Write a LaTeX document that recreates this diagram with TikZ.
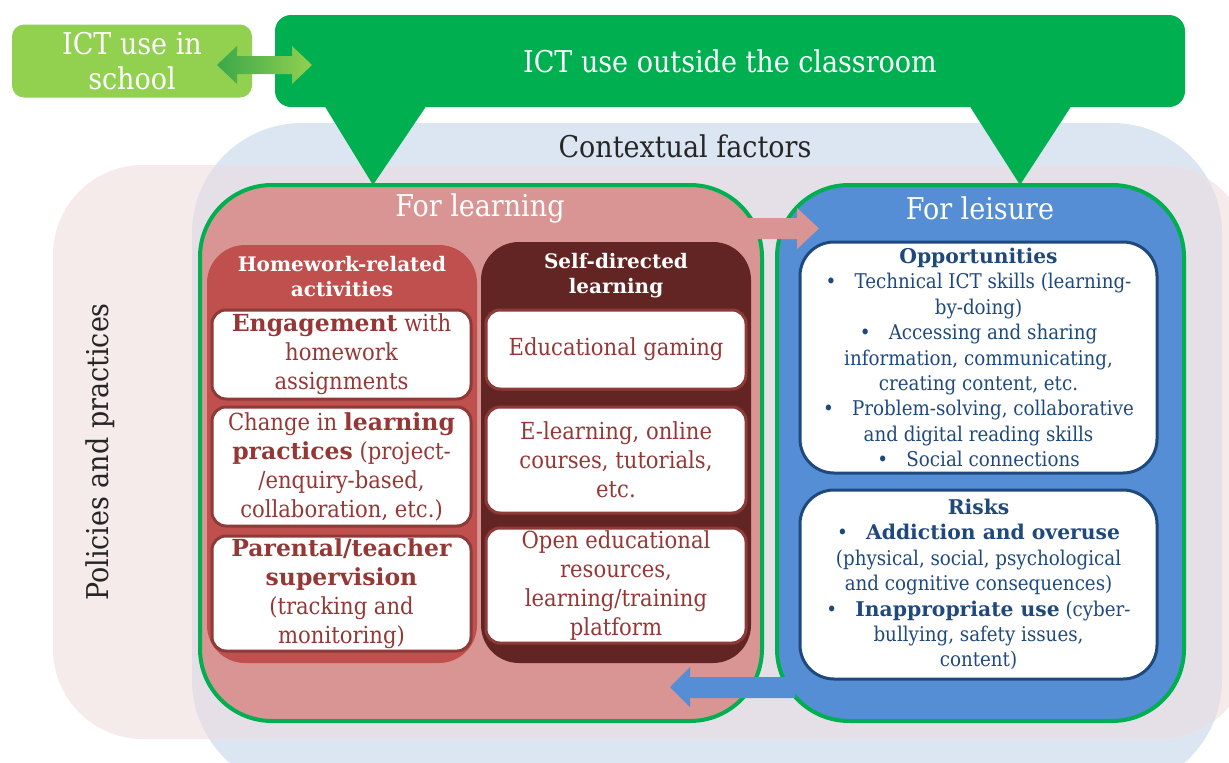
\documentclass[tikz,border=0pt]{standalone}
\usepackage{fontspec}
\setmainfont{DejaVu Serif Condensed}[BoldFont={DejaVu Serif Bold}]
\definecolor{ltgreen}{HTML}{92D050}
\definecolor{dkgreen}{HTML}{00B050}
\definecolor{arrdark}{HTML}{3AA84A}
\definecolor{lrnfill}{HTML}{D99594}
\definecolor{hwred}{HTML}{C0504D}
\definecolor{sdred}{HTML}{632523}
\definecolor{boxred}{HTML}{953735}
\definecolor{boxedge}{HTML}{8E3A38}
\definecolor{leisblue}{HTML}{558ED5}
\definecolor{navy}{HTML}{1F497D}
\definecolor{bgblue}{HTML}{DCE6F2}
\definecolor{bgpink}{HTML}{F5EBEB}
\definecolor{bglav}{HTML}{E5E0E8}
\definecolor{darktext}{HTML}{262626}
\newcommand\fsTitle{\fontsize{30}{35}\selectfont}
\newcommand\fsBox{\fontsize{23.5}{29}\selectfont}
\newcommand\fsHdr{\fontsize{20}{25}\selectfont\bfseries}
\newcommand\fsRight{\fontsize{20.3}{25.4}\selectfont}
\newcommand\bul{\textbullet\hspace{0.9em}}
\tikzset{
  titletext/.style={font=\fsTitle, inner sep=0pt, align=center},
  panelbox/.style={inner sep=0pt, rounded corners=38pt},
  hdrtext/.style={font=\fsHdr, text=white, align=center, inner sep=0pt},
  wbox/.style={draw=boxedge, line width=3pt, fill=white, rounded corners=14pt,
    text=boxred, align=center, inner sep=0pt, font=\fsBox},
  rbox/.style={draw=navy, line width=3pt, fill=white, rounded corners=34pt,
    text=navy, align=center, inner sep=0pt, font=\fsRight, minimum width=357pt},
  bigbox/.style={draw=dkgreen, line width=4pt, rounded corners=72pt, inner sep=0pt,
    minimum height=536pt}
}
\begin{document}
\begin{tikzpicture}[x=1pt,y=-1pt]
\useasboundingbox (0,0) rectangle (1229,763);
% background regions
\begin{scope}
  \clip (0,0) rectangle (1229,763);
  \fill[bgblue, rounded corners=110pt] (192,123) rectangle (1222,790);
  \fill[bgpink, rounded corners=90pt] (53,165) rectangle (1250,739);
  \clip[rounded corners=110pt] (192,123) rectangle (1222,790);
  \fill[bglav, rounded corners=90pt] (53,165) rectangle (1250,739);
\end{scope}
\node[titletext, text=darktext] (ctx) at (685,146) {Contextual factors};
\node[titletext, text=darktext, rotate=90] (pol) at (100,452) {Policies and practices};

% top boxes
\node[fill=ltgreen, rounded corners=12pt, minimum width=240pt, minimum height=73pt,
  titletext, text=white] (school) at (132,61) {ICT use in\\school};
\node[fill=dkgreen, rounded corners=16pt, minimum width=910pt, minimum height=92pt,
  titletext, text=white] (outside) at (730,61) {ICT use outside the classroom};
\fill[dkgreen] (324,105) -- (427,105) -- (373,185) -- cycle;
\fill[dkgreen] (969,105) -- (1072,105) -- (1020,185) -- cycle;
\shade[left color=arrdark, right color=ltgreen]
  (217,65) -- (237,46) -- (237,56) -- (292,56) -- (292,46) -- (312,65)
  -- (292,84) -- (292,74) -- (237,74) -- (237,84) -- cycle;

% main boxes
\node[bigbox, fill=lrnfill, minimum width=562pt] (learn) at (481,453) {};
\node[bigbox, fill=leisblue, minimum width=407pt] (leis) at (980.5,453) {};
\node[titletext, text=white] (learnt) at (480,208) {For learning};
\node[titletext, text=white] (leist) at (980,208) {For leisure};

% panels
\node[panelbox, fill=hwred, minimum width=270pt, minimum height=418pt] (hw) at (342,454) {};
\node[panelbox, fill=sdred, minimum width=270pt, minimum height=421pt] (sd) at (616,452.5) {};
\node[hdrtext] (hwh) at (342,277) {Homework-related\\activities};
\node[hdrtext] (sdh) at (616,276) {Self-directed\\learning};

\node[wbox, minimum width=259pt, minimum height=89pt] (b1) at (341.5,354.5)
  {\textbf{Engagement} with\\homework\\assignments};
\node[wbox, minimum width=259pt, minimum height=119pt] (b2) at (341.5,466.5)
  {Change in \textbf{learning}\\\textbf{practices} (project-\\/enquiry-based,\\collaboration, etc.)};
\node[wbox, minimum width=259pt, minimum height=115pt] (b3) at (341.5,593.5)
  {\textbf{Parental/teacher}\\\textbf{supervision}\\(tracking and\\monitoring)};
\node[wbox, minimum width=260pt, minimum height=79pt] (s1) at (616,349.5)
  {Educational gaming};
\node[wbox, minimum width=260pt, minimum height=106pt] (s2) at (616,460)
  {E-learning, online\\courses, tutorials,\\etc.};
\node[wbox, minimum width=260pt, minimum height=115pt] (s3) at (616,585.5)
  {Open educational\\resources,\\learning/training\\platform};

% leisure boxes
\node[rbox, minimum height=231pt] (opp) at (978.5,357.5)
  {\textbf{Opportunities}\\
   \bul Technical ICT skills (learning-\\
   by-doing)\\
   \bul Accessing and sharing\\
   information, communicating,\\
   creating content, etc.\\
   \bul Problem-solving, collaborative\\
   and digital reading skills\\
   \bul Social connections};
\node[rbox, minimum height=189pt] (risk) at (978.5,584.5)
  {\textbf{Risks}\\
   \bul\textbf{Addiction and overuse}\\
   (physical, social, psychological\\
   and cognitive consequences)\\
   \bul\textbf{Inappropriate use} (cyber-\\
   bullying, safety issues,\\
   content)};

% block arrows between the two areas
\fill[lrnfill] (740,218) -- (797,218) -- (797,208) -- (819,228.5) -- (797,249)
  -- (797,239) -- (740,239) -- cycle;
\fill[leisblue] (670,687) -- (690,667) -- (690,677) -- (795,677) -- (795,698)
  -- (690,698) -- (690,707) -- cycle;
\end{tikzpicture}
\end{document}
